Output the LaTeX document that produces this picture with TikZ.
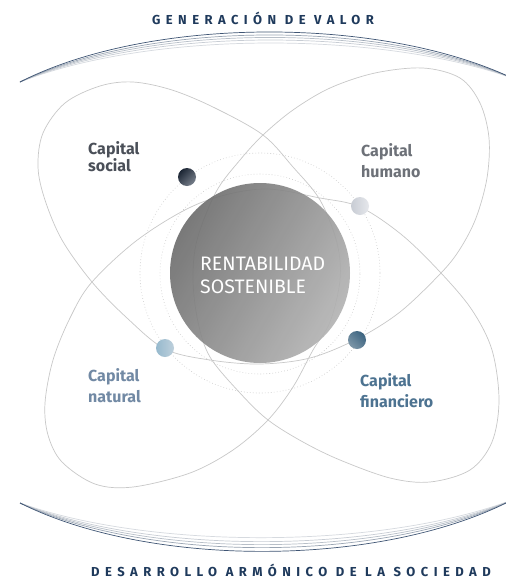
\documentclass[tikz,border=0pt]{standalone}
\usepackage{fontspec}
\setmainfont{Fira Sans}
\definecolor{navy}{HTML}{1F3A5C}
\definecolor{orbit}{HTML}{C8C8C8}
\definecolor{dotc}{HTML}{C4C4C4}
\definecolor{socialc}{HTML}{4A4F58}
\definecolor{humanoc}{HTML}{6D7178}
\definecolor{naturalc}{HTML}{7189A4}
\definecolor{financieroc}{HTML}{4D7391}
\tikzset{
  orbitline/.style={draw=orbit, line width=0.7pt},
  dottedring/.style={draw=dotc, line width=0.6pt, dash pattern=on 0.6pt off 2.4pt},
  capital/.style={anchor=north west, align=left, inner sep=0pt},
  planet/.style={circle, inner sep=0pt, minimum size=18pt},
  title/.style={anchor=base, inner sep=0pt, text=navy,
    font=\fontsize{13}{15}\selectfont\bfseries\addfontfeature{LetterSpace=42}},
}
\begin{document}
\begin{tikzpicture}[x=1pt,y=-1pt]
\useasboundingbox (0,0) rectangle (506,579);
\fill[white] (0,0) rectangle (506,579);

% top swoosh
\foreach \c/\col in {30.7/D6DADF, 26.7/C8CDD4, 23.3/B8BFC8, 20/9AA5B3, 16/3F5574}{
  \definecolor{sw}{HTML}{\col}
  \draw[line width=0.7pt, draw=sw] (20,82) .. controls (150,\c) and (380,\c) .. (512,78);
}
% bottom swoosh
\foreach \c/\col in {549.7/D6DADF, 555/C8CDD4, 559/B8BFC8, 563/9AA5B3, 568/3F5574}{
  \definecolor{sw}{HTML}{\col}
  \draw[line width=0.7pt, draw=sw] (20,503) .. controls (150,\c) and (380,\c) .. (512,500);
}

% rosette orbit (one closed curve with four lobes)
\draw[orbitline] plot[smooth cycle, tension=0.55] coordinates {
  (45,403) (53,360) (70,318) (92,282) (140,238) (200,203) (262,189) (320,198)
  (360,207) (402,235) (441,273) (472,310) (492,350) (499,400) (492,442) (470,470)
  (430,482) (390,478) (340,460) (303,442) (268,420) (240,393) (210,357) (198,322)
  (193,280) (197,240) (216,192) (240,160) (263,135) (293,110) (330,88) (375,73)
  (423,68) (460,78) (480,103) (489,138) (487,178) (476,218) (460,249) (441,273)
  (400,312) (357,339) (310,358) (260,364) (210,360) (165,349) (127,318) (92,282)
  (62,240) (45,200) (38,167) (43,133) (65,103) (100,86) (133,82) (172,90)
  (215,108) (263,135) (293,167) (320,200) (337,243) (340,280) (330,322) (313,350)
  (293,387) (268,420) (233,450) (190,473) (133,487) (95,484) (62,462) (48,435)
};
% dotted rings
\draw[dottedring] (260,273) circle (120);
\draw[dottedring] (260,274) circle (100);

% core
\node[circle, inner sep=0pt, minimum size=180pt, left color=black!58, right color=black!30,
  shading angle=60, fill opacity=0.9] (core) at (260,273) {};
\node[anchor=north west, align=left, inner sep=0pt, text=white,
  font=\fontsize{19.5}{23}\selectfont] (corelabel) at (200,257) {RENTABILIDAD\\SOSTENIBLE};

% planets
\node[planet, left color={rgb,255:red,28;green,38;blue,52}, right color={rgb,255:red,120;green,128;blue,140}, shading angle=45] (psocial) at (187,177) {};
\node[planet, left color={rgb,255:red,200;green,204;blue,212}, right color={rgb,255:red,230;green,232;blue,236}] (phumano) at (360,206) {};
\node[planet, left color={rgb,255:red,150;green,185;blue,205}, right color={rgb,255:red,190;green,208;blue,220}] (pnatural) at (165,348) {};
\node[planet, left color={rgb,255:red,60;green,100;blue,128}, right color={rgb,255:red,125;green,150;blue,168}, shading angle=-45] (pfinanciero) at (357,340) {};

% labels
\node[capital, text=socialc, font=\fontsize{16}{17}\selectfont\bfseries] (lsocial) at (88,141) {Capital\\social};
\node[capital, text=humanoc, font=\fontsize{16}{21.5}\selectfont\bfseries] (lhumano) at (361,143) {Capital\\humano};
\node[capital, text=naturalc, font=\fontsize{16}{21.5}\selectfont\bfseries] (lnatural) at (88,368) {Capital\\natural};
\node[capital, text=financieroc, font=\fontsize{16}{21.5}\selectfont\bfseries] (lfinanciero) at (360,373) {Capital\\financiero};

% titles
\node[title] (ttop) at (263,24) {GENERACIÓN DE VALOR};
\node[title] (tbottom) at (291,576) {DESARROLLO ARMÓNICO DE LA SOCIEDAD};
\end{tikzpicture}
\end{document}
